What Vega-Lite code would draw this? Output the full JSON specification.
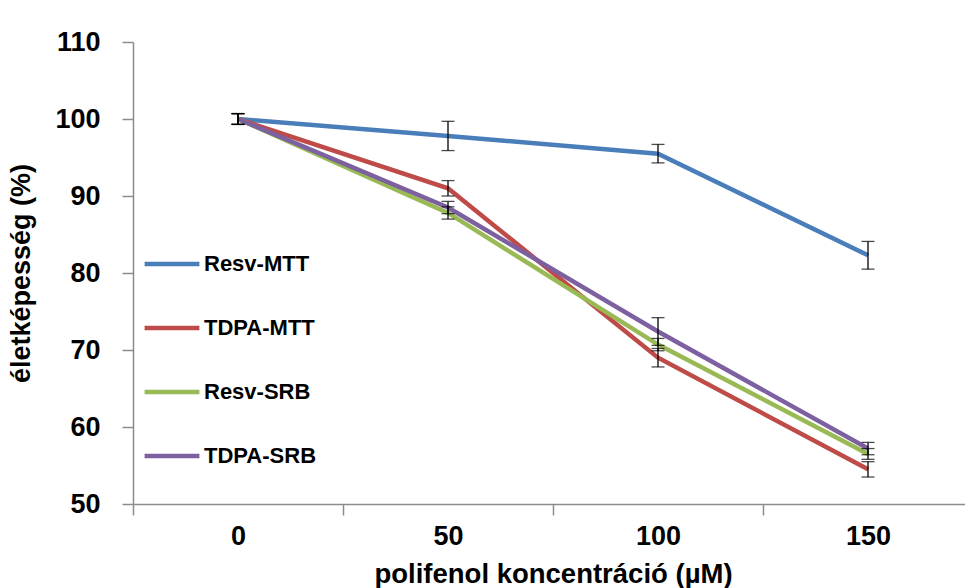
{
  "$schema": "https://vega.github.io/schema/vega-lite/v6.json",
  "autosize": "none",
  "width": 840,
  "height": 462,
  "padding": {"left": 133, "top": 42, "right": 0, "bottom": 84},
  "background": "white",
  "config": {
    "view": {"stroke": null},
    "font": "Liberation Sans",
    "axis": {"grid": false, "domainColor": "#8c8c8c", "tickColor": "#8c8c8c", "domainWidth": 1.5, "tickWidth": 1.5, "labelFontWeight": "bold", "titleFontWeight": "bold", "labelColor": "#000", "titleColor": "#000"}
  },
  "data": {
    "values": [
      {"conc": "0", "series": "Resv-MTT", "v": 100, "e": 0.7},
      {"conc": "50", "series": "Resv-MTT", "v": 97.8, "e": 1.9},
      {"conc": "100", "series": "Resv-MTT", "v": 95.5, "e": 1.2},
      {"conc": "150", "series": "Resv-MTT", "v": 82.3, "e": 1.8},
      {"conc": "0", "series": "TDPA-MTT", "v": 100, "e": 0.7},
      {"conc": "50", "series": "TDPA-MTT", "v": 91.0, "e": 1.0},
      {"conc": "100", "series": "TDPA-MTT", "v": 69.0, "e": 1.2},
      {"conc": "150", "series": "TDPA-MTT", "v": 54.5, "e": 1.0},
      {"conc": "0", "series": "Resv-SRB", "v": 100, "e": 0.7},
      {"conc": "50", "series": "Resv-SRB", "v": 87.8, "e": 0.8},
      {"conc": "100", "series": "Resv-SRB", "v": 70.7, "e": 0.8},
      {"conc": "150", "series": "Resv-SRB", "v": 56.5, "e": 0.7},
      {"conc": "0", "series": "TDPA-SRB", "v": 100, "e": 0.7},
      {"conc": "50", "series": "TDPA-SRB", "v": 88.5, "e": 0.8},
      {"conc": "100", "series": "TDPA-SRB", "v": 72.4, "e": 1.8},
      {"conc": "150", "series": "TDPA-SRB", "v": 57.2, "e": 0.8}
    ]
  },
  "encoding": {
    "x": {
      "field": "conc", "type": "ordinal", "sort": ["0", "50", "100", "150"],
      "scale": {"paddingInner": 0, "paddingOuter": 0},
      "axis": {"title": "polifenol koncentráció (µM)", "labelAngle": 0, "tickBand": "extent", "tickSize": 11, "labelPadding": 8, "labelFontSize": 27, "titleFontSize": 27.5, "titleY": 70, "titleBaseline": "middle"}
    }
  },
  "layer": [
    {
      "mark": {"type": "line", "strokeWidth": 4.5},
      "encoding": {
        "y": {
          "field": "v", "type": "quantitative", "title": "életképesség (%)",
          "scale": {"domain": [50, 110], "zero": false, "nice": false},
          "axis": {"values": [50, 60, 70, 80, 90, 100, 110], "tickSize": 11, "labelPadding": 22, "labelFontSize": 27, "titleFontSize": 27, "titleX": -112, "titleY": 231, "titleAlign": "center", "titleBaseline": "middle", "titleAngle": -90}
        },
        "color": {
          "field": "series", "type": "nominal",
          "sort": ["Resv-MTT", "TDPA-MTT", "Resv-SRB", "TDPA-SRB"],
          "scale": {"domain": ["Resv-MTT", "TDPA-MTT", "Resv-SRB", "TDPA-SRB"], "range": ["#4A7EBB", "#BE4B48", "#98B954", "#7D60A0"]},
          "legend": {"orient": "none", "legendX": 9, "legendY": 192, "title": null, "symbolType": "stroke", "symbolStrokeWidth": 4.5, "symbolSize": 3000, "labelFontSize": 22, "labelFontWeight": "bold", "labelColor": "#000", "labelOffset": 2, "rowPadding": 23}
        }
      }
    },
    {
      "mark": {"type": "errorbar", "ticks": {"size": 13, "color": "black", "thickness": 1.3}, "rule": {"color": "black", "strokeWidth": 1.3}},
      "encoding": {
        "y": {"field": "v", "type": "quantitative", "title": "életképesség (%)"},
        "yError": {"field": "e"},
        "detail": {"field": "series"}
      }
    }
  ]
}
